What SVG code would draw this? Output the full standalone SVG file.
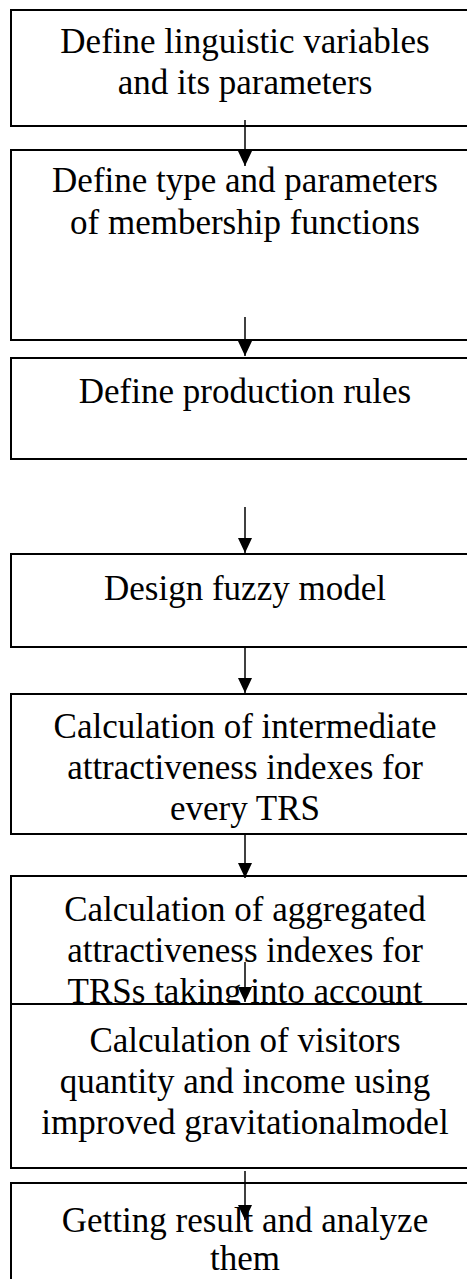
<svg xmlns="http://www.w3.org/2000/svg" width="467" height="1279" viewBox="0 0 467 1279">
  <style>
    .box { fill: #ffffff; stroke: #000000; stroke-width: 2; }
    .lbl { font-family: "Liberation Serif", "Times New Roman", serif; font-size: 35px; fill: #000000; text-anchor: middle; }
    .flow { stroke: #000000; stroke-width: 1.5; fill: none; marker-end: url(#head); }
  </style>
  <defs>
    <!-- solid triangular arrowhead, tip at the line end -->
    <marker id="head" markerUnits="userSpaceOnUse" markerWidth="15" markerHeight="14" viewBox="0 0 15 14" refX="15" refY="7" orient="auto">
      <path d="M0,0 L15,7 L0,14 Z" fill="#000000"/>
    </marker>
  </defs>

  <g id="step1">
    <rect class="box" x="11" y="10" width="468" height="116"/>
    <text class="lbl" x="245" y="53">Define linguistic variables</text>
    <text class="lbl" x="245" y="94">and its parameters</text>
  </g>

  <g id="step2">
    <rect class="box" x="11" y="150" width="468" height="190"/>
    <text class="lbl" x="245" y="192">Define type and parameters</text>
    <text class="lbl" x="245" y="234">of membership functions</text>
  </g>

  <g id="step3">
    <rect class="box" x="11" y="358" width="468" height="101"/>
    <text class="lbl" x="245" y="403">Define production rules</text>
  </g>

  <g id="step4">
    <rect class="box" x="11" y="554" width="468" height="93"/>
    <text class="lbl" x="245" y="600">Design fuzzy model</text>
  </g>

  <g id="step5">
    <rect class="box" x="11" y="694" width="468" height="140"/>
    <text class="lbl" x="245" y="738">Calculation of intermediate</text>
    <text class="lbl" x="245" y="779">attractiveness indexes for</text>
    <text class="lbl" x="245" y="820">every TRS</text>
  </g>

  <g id="step6">
    <rect class="box" x="11" y="876" width="468" height="128"/>
    <text class="lbl" x="245" y="921">Calculation of aggregated</text>
    <text class="lbl" x="245" y="962">attractiveness indexes for</text>
    <text class="lbl" x="245" y="1003">TRSs taking into account</text>
  </g>

  <g id="step7">
    <rect class="box" x="11" y="1004" width="468" height="164"/>
    <text class="lbl" x="245" y="1052">Calculation of visitors</text>
    <text class="lbl" x="245" y="1093">quantity and income using</text>
    <text class="lbl" x="245" y="1134">improved gravitationalmodel</text>
  </g>

  <g id="step8">
    <rect class="box" x="11" y="1183" width="468" height="110"/>
    <text class="lbl" x="245" y="1232">Getting result and analyze</text>
    <text class="lbl" x="245" y="1270">them</text>
  </g>

  <g id="connectors">
    <line class="flow" x1="245" y1="120" x2="245" y2="166"/>
    <line class="flow" x1="245" y1="317" x2="245" y2="356"/>
    <line class="flow" x1="245" y1="507" x2="245" y2="553"/>
    <line class="flow" x1="245" y1="647" x2="245" y2="693"/>
    <line class="flow" x1="245" y1="834" x2="245" y2="878"/>
    <line class="flow" x1="245" y1="962" x2="245" y2="1002"/>
    <line class="flow" x1="245" y1="1171" x2="245" y2="1220"/>
  </g>
</svg>
